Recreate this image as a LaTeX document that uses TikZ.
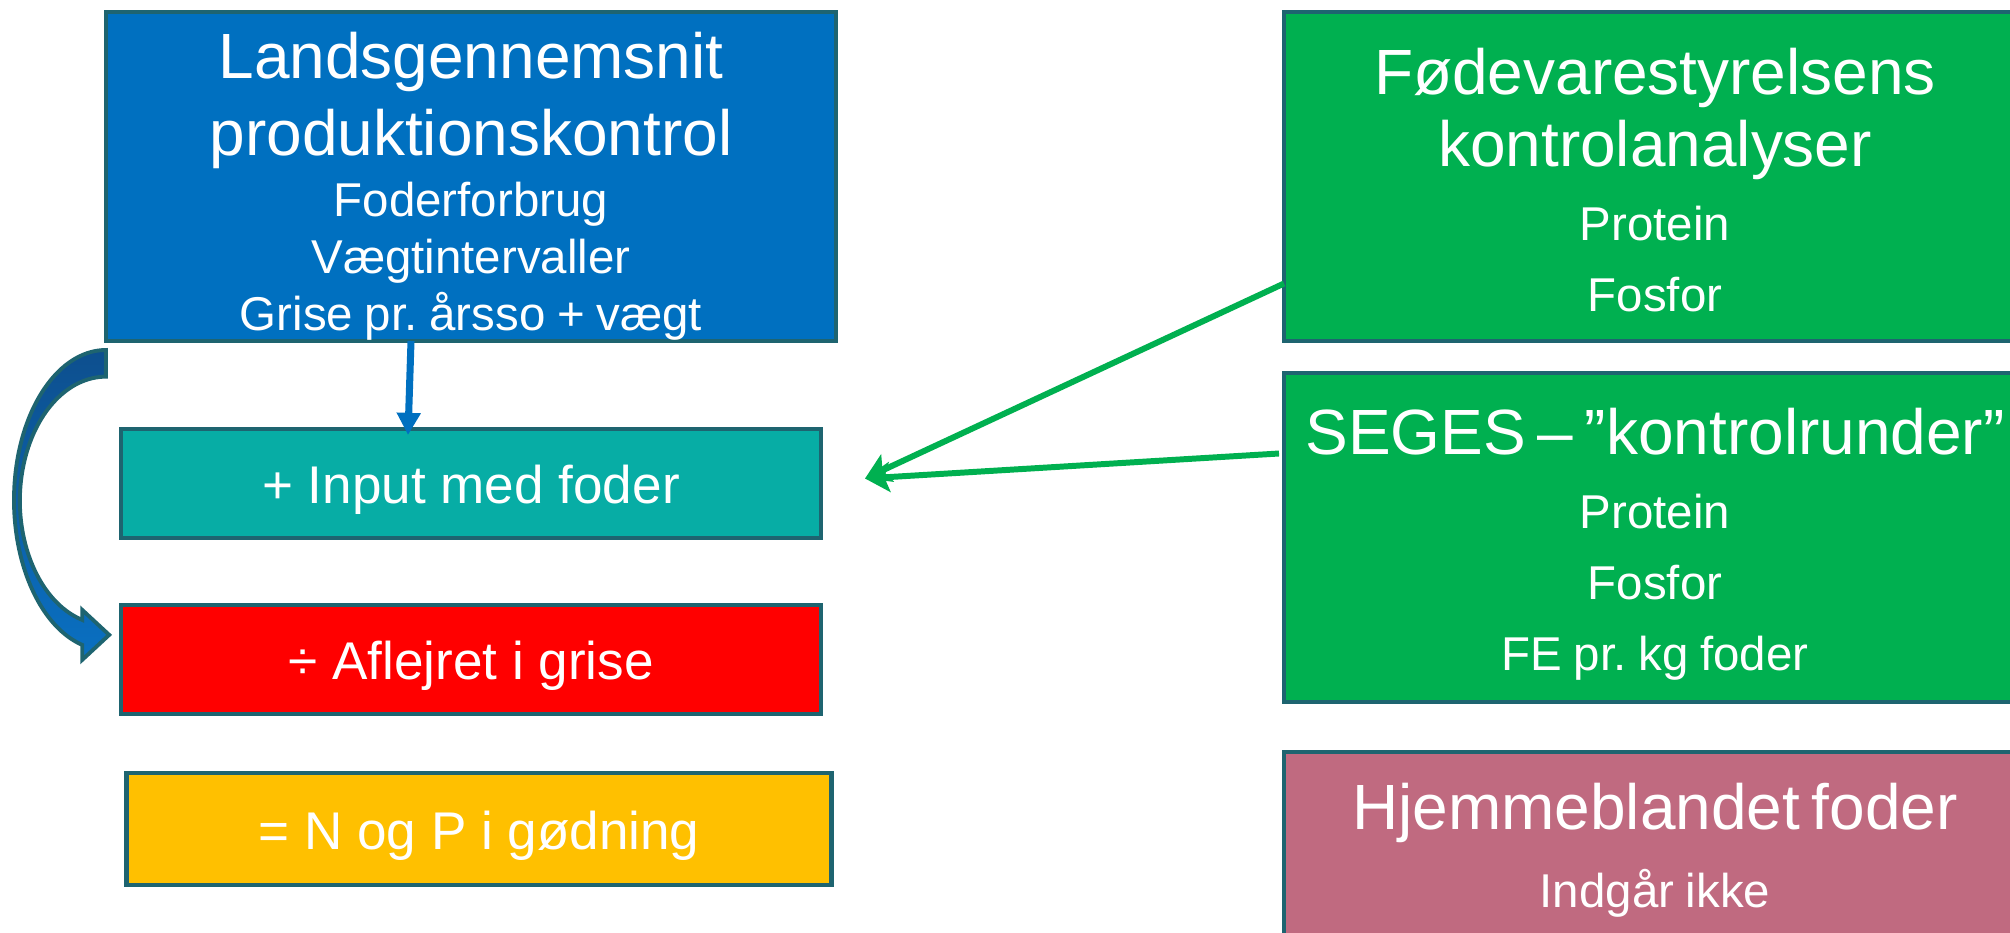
\documentclass[tikz,border=0pt]{standalone}
\usepackage{fontspec}
\setmainfont{Liberation Sans}
\usepackage{xcolor}
\usetikzlibrary{positioning, calc, arrows.meta}
\frenchspacing

\definecolor{kant}{HTML}{1E6470}
\definecolor{blaa}{HTML}{0070C0}
\definecolor{tyrkis}{HTML}{07ADA5}
\definecolor{roed}{HTML}{FF0000}
\definecolor{gul}{HTML}{FFC000}
\definecolor{groen}{HTML}{00B050}
\definecolor{rosa}{HTML}{C06A80}
\definecolor{pilmoerk}{HTML}{0D4F8E}
\definecolor{pillys}{HTML}{0A70C2}

\newcommand{\stor}{\fontsize{18.2}{21.9}\selectfont}
\newcommand{\stortaet}{\fontsize{18.2}{20.5}\selectfont}
\newcommand{\mellem}{\fontsize{15.1}{18}\selectfont}
\newcommand{\lille}{\fontsize{13.5}{16.2}\selectfont}
\newcommand{\lilleluft}{\fontsize{13.5}{20.1}\selectfont}
\newcommand{\luft}[1]{\rule{0pt}{#1}} % extra room above the first line

\tikzset{
    boks/.style={rectangle, draw=kant, line width=1.2pt, text=white, align=center, inner sep=0pt, outer sep=0pt}, % every coloured box
    storboks/.style={boks, minimum height=3.29cm, text width=7.3cm}, % the big boxes with several lines
    smalboks/.style={boks, minimum width=7cm, minimum height=1.09cm, font=\mellem, text height=14.6pt, text depth=3.2pt}, % the one-line boxes
    pil/.style={draw=groen, line width=1.7pt, -{Stealth[length=7pt, width=8.5pt, inset=1.5pt]}},
    blaapil/.style={draw=blaa, line width=2pt, -{Triangle[length=6.3pt, width=6.5pt]}},
    kurve/.style={draw=kant, line width=1.1pt, top color=pilmoerk, bottom color=pillys},
}

\begin{document}
\begin{tikzpicture}
    \useasboundingbox (0,0) rectangle (20.10,-9.33);

    \node[storboks, fill=blaa, minimum width=7.24cm] (lands) at (4.71,-1.765)
        {{\stor\luft{18.5pt}Landsgennemsnit\\produktionskontrol\par}\vspace{1.2pt}{\lille Foderforbrug\\Vægtintervaller\\Grise pr. årsso + vægt\par}};
    \node[smalboks, fill=tyrkis, below=0.88cm of lands] (input) {+ Input med foder};
    \node[smalboks, fill=roed, below=0.67cm of input] (aflejret) {÷ Aflejret i grise};
    \node[smalboks, fill=gul, minimum width=7.05cm, minimum height=1.12cm, below=0.59cm of aflejret, xshift=0.08cm] (goedning) {= N og P i gødning};

    \node[storboks, fill=groen, minimum width=7.42cm, right=4.48cm of lands] (fvst)
        {{\stortaet\luft{15pt}Fødevarestyrelsens\\kontrolanalyser\par}\vspace{1pt}{\lilleluft Protein\\Fosfor\par}};
    \node[storboks, fill=groen, minimum width=7.42cm, below=0.32cm of fvst] (seges)
        {{\stor\luft{17pt}SEGES – ”kontrolrunder”\par}\vspace{1pt}{\lilleluft Protein\\Fosfor\\FE pr. kg foder\par}};
    \node[storboks, fill=rosa, minimum width=7.42cm, minimum height=1.96cm, below=0.50cm of seges] (hjemme)
        {{\stor Hjemmeblandet foder\par}\vspace{2pt}{\lilleluft Indgår ikke\par}};

    \coordinate (meet) at ([xshift=0.44cm,yshift=0.05cm]input.east);

    \draw[pil] ([yshift=-1.07cm]fvst.west) -- (meet);
    \draw[pil] ([xshift=-0.05cm,yshift=0.84cm]seges.west) -- (meet);
    \draw[blaapil] ([xshift=-0.60cm]lands.south) -- ([xshift=-0.63cm,yshift=-0.06cm]input.north);

    % curved block arrow from the top box down to the red box
    \draw[kurve] ([yshift=-0.09cm]lands.south west)
        arc[start angle=90, end angle=255, x radius=0.92, y radius=1.50]
        -- ++(0,-0.15) -- ++(0.27,0.25) -- ++(-0.27,0.25) -- ++(0,-0.10)
        arc[start angle=254, end angle=90, x radius=0.86, y radius=1.24] -- cycle;
\end{tikzpicture}
\end{document}
